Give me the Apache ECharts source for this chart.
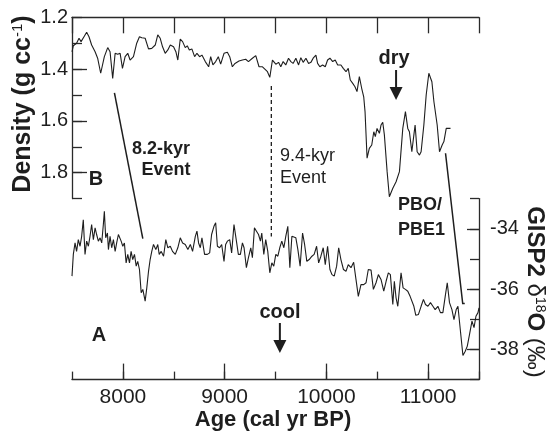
<!DOCTYPE html>
<html><head><meta charset="utf-8">
<script src="https://cdn.jsdelivr.net/npm/echarts@6/dist/echarts.min.js"></script>
<style>html,body{margin:0;padding:0;background:#fff}#c{width:547px;height:434px}</style>
</head><body><div id="c"></div>
<script>
// ---- Data ----
const densityAge = [7500,7513,7545,7569,7589,7618,7644,7667,7693,7727,
7752,7782,7818,7851,7874,7900,7924,7949,7973,7996,
8022,8048,8071,8104,8136,8163,8186,8219,8252,8284,
8318,8343,8367,8390,8416,8442,8466,8498,8521,8540,
8564,8587,8613,8633,8653,8678,8705,8728,8754,8777,
8810,8843,8863,8885,8912,8938,8961,8994,9027,9050,
9076,9102,9141,9175,9207,9234,9273,9306,9338,9372,
9398,9421,9444,9470,9503,9530,9552,9575,9601,9628,
9651,9673,9700,9727,9749,9772,9799,9825,9848,9870,
9897,9914,9936,9963,9989,10012,10035,10062,10087,10111,
10143,10166,10193,10215,10235,10259,10281,10301,10324,10347,
10367,10380,10400,10422,10446,10466,10481,10498,10521,10537,
10554,10570,10597,10619,10653,10685,10718,10751,10777,10800,
10816,10840,10860,10872,10892,10915,10931,10958,10981,11007,
11037,11057,11089,11112,11138,11155,11178,11195,11220];
const densityVal = [1.333,1.310,1.300,1.281,1.294,1.275,1.258,1.275,1.307,1.333,
1.358,1.416,1.352,1.317,1.333,1.436,1.339,1.343,1.339,1.397,
1.352,1.339,1.365,1.352,1.300,1.275,1.279,1.281,1.322,1.320,
1.307,1.268,1.281,1.314,1.339,1.326,1.307,1.314,1.333,1.365,
1.284,1.294,1.317,1.310,1.326,1.322,1.352,1.339,1.352,1.346,
1.371,1.391,1.352,1.384,1.371,1.352,1.381,1.339,1.335,1.352,
1.391,1.378,1.369,1.365,1.362,1.371,1.358,1.348,1.391,1.391,
1.401,1.410,1.432,1.365,1.381,1.374,1.391,1.371,1.384,1.358,
1.371,1.378,1.358,1.384,1.356,1.374,1.358,1.378,1.374,1.358,
1.346,1.378,1.391,1.384,1.391,1.365,1.358,1.371,1.365,1.384,
1.384,1.397,1.410,1.397,1.442,1.455,1.468,1.487,1.429,1.474,
1.507,1.564,1.744,1.706,1.693,1.642,1.661,1.629,1.648,1.616,
1.605,1.654,1.796,1.893,1.860,1.835,1.796,1.629,1.564,1.629,
1.642,1.719,1.654,1.616,1.719,1.732,1.719,1.616,1.500,1.416,
1.449,1.526,1.616,1.719,1.693,1.680,1.629,1.635,1.629];

const d18oAge = [7500,7513,7530,7545,7562,7579,7595,7611,7628,7644,
7661,7677,7693,7710,7727,7742,7759,7776,7792,7808,
7818,7831,7848,7858,7874,7890,7907,7924,7939,7956,
7983,7999,8015,8032,8048,8065,8081,8097,8114,8131,
8146,8163,8180,8196,8219,8235,8252,8268,8284,8301,
8324,8343,8357,8377,8400,8422,8442,8466,8488,8515,
8540,8564,8587,8613,8639,8663,8685,8712,8728,8744,
8761,8777,8803,8830,8853,8872,8895,8912,8929,8951,
8971,8994,9010,9027,9050,9069,9092,9116,9135,9155,
9175,9191,9214,9234,9257,9273,9293,9313,9333,9352,
9365,9385,9404,9424,9444,9464,9483,9503,9523,9542,
9562,9582,9601,9621,9641,9661,9680,9700,9720,9742,
9766,9786,9808,9831,9858,9880,9904,9924,9946,9969,
9989,10012,10035,10055,10077,10101,10121,10143,10168,10193,
10215,10242,10268,10291,10314,10340,10367,10390,10412,10439,
10462,10488,10511,10537,10564,10587,10609,10629,10653,10668,
10685,10702,10718,10734,10754,10777,10800,10823,10840,10860,
10879,10905,10931,10954,10974,10998,11023,11047,11069,11096,
11121,11145,11168,11188,11210,11234,11254,11276,11293,11316,
11342,11365,11385,11407,11431,11451,11470,11490,11500];
const d18oVal = [-35.57,-34.85,-34.47,-34.75,-34.36,-34.58,-34.25,-33.70,-34.85,-34.41,
-34.58,-34.25,-33.86,-34.36,-33.97,-34.19,-34.41,-34.30,-34.47,-33.86,
-33.42,-34.30,-34.14,-34.69,-34.25,-34.63,-34.36,-34.75,-34.47,-34.19,
-34.41,-34.58,-34.47,-35.13,-34.85,-35.13,-34.75,-35.02,-34.85,-35.24,
-35.08,-35.35,-36.12,-36.01,-36.40,-35.96,-35.41,-35.02,-34.75,-34.52,
-34.69,-34.52,-34.85,-34.75,-34.91,-34.36,-34.63,-34.58,-34.75,-34.85,
-34.63,-34.30,-34.47,-34.52,-34.69,-34.52,-34.75,-34.25,-34.08,-34.47,
-34.63,-34.30,-34.85,-34.85,-34.80,-34.19,-33.92,-33.80,-34.58,-34.63,
-34.52,-35.08,-34.52,-34.41,-34.36,-34.80,-33.86,-34.41,-34.85,-34.85,
-34.47,-34.63,-35.29,-34.96,-34.63,-34.96,-33.97,-34.08,-34.19,-34.41,
-34.14,-34.85,-34.36,-34.75,-35.46,-35.13,-35.24,-34.85,-34.91,-34.63,
-34.41,-34.63,-34.25,-33.92,-35.29,-34.25,-34.19,-34.30,-34.69,-35.24,
-34.14,-34.52,-35.08,-35.02,-34.91,-34.85,-34.58,-35.13,-34.91,-34.63,
-35.19,-34.58,-35.35,-35.52,-35.57,-35.24,-34.63,-35.02,-35.35,-35.41,
-35.19,-35.29,-35.11,-35.68,-36.24,-35.85,-35.85,-35.79,-35.35,-35.37,
-36.01,-35.79,-35.52,-35.68,-36.07,-35.74,-35.46,-35.52,-36.51,-35.74,
-36.29,-36.57,-36.01,-35.46,-35.96,-36.01,-36.07,-36.24,-36.29,-36.57,
-36.87,-36.84,-36.57,-36.34,-36.51,-36.57,-36.45,-36.57,-36.68,-36.57,
-36.78,-36.78,-36.24,-35.79,-36.45,-36.68,-37.01,-36.68,-36.57,-37.34,
-38.20,-38.06,-37.89,-37.50,-37.06,-37.28,-36.90,-36.78,-36.62];

const ageMajorTicks = [8000, 9000, 10000, 11000];
const densityMajorTicks = [1.2, 1.4, 1.6, 1.8];
const d18oMajorTicks = [-34, -36, -38];

// annotation anchors (data coordinates)
const event82 = { fromAge: 7917, fromDensity: 1.492, toAge: 8196, toD18o: -34.33 };
const event94 = { age: 9459, fromDensity: 1.465, toD18o: -34.26 };
const eventPBO = { fromAge: 11171, fromDensity: 1.725, toAge: 11340, toD18o: -36.48, endAge: 11360 };
const dryArrowAge = 10685;
const coolArrowAge = 9543;

// ---- Chart ----
const FONT = '"Liberation Sans", Arial, Helvetica, sans-serif';
const INK = '#1e1e1e';
const axisLineStyle = { color: '#2a2a2a', width: 1.3 };

const chart = echarts.init(document.getElementById('c'), null, { renderer: 'canvas' });

const densityData = densityAge.map((a, i) => [a, densityVal[i]]);
const d18oData = d18oAge.map((a, i) => [a, d18oVal[i]]);

const option = {
  animation: false,
  backgroundColor: '#fff',
  textStyle: { fontFamily: FONT },
  grid: [
    { left: 72, top: 17.3, width: 407, height: 181.3 },
    { left: 72, top: 198.6, width: 407, height: 181 }
  ],
  xAxis: [
    { gridIndex: 0, type: 'value', position: 'top', min: 7500, max: 11500, interval: 500,
      axisLine: { show: true, lineStyle: axisLineStyle },
      axisTick: { show: true, inside: true, length: 16, lineStyle: axisLineStyle },
      axisLabel: { show: false }, splitLine: { show: false } },
    { gridIndex: 1, type: 'value', position: 'bottom', min: 7500, max: 11500, interval: 500,
      axisLine: { show: true, lineStyle: axisLineStyle },
      axisTick: { show: true, inside: true, length: 8, lineStyle: axisLineStyle },
      axisLabel: { show: false }, splitLine: { show: false } },
    { gridIndex: 1, type: 'value', position: 'bottom', min: 7500, max: 11500, interval: 500,
      axisLine: { show: false },
      axisTick: { show: true, inside: true, length: 16, lineStyle: axisLineStyle, customValues: ageMajorTicks },
      axisLabel: { show: true, customValues: ageMajorTicks, formatter: v => String(v), fontSize: 21, color: INK, margin: 7, fontFamily: FONT },
      splitLine: { show: false } }
  ],
  yAxis: [
    { gridIndex: 0, type: 'value', position: 'left', inverse: true, min: 1.2, max: 1.9, interval: 0.1,
      axisLine: { show: true, lineStyle: axisLineStyle },
      axisTick: { show: true, inside: true, length: 10, lineStyle: axisLineStyle },
      axisLabel: { show: true, customValues: densityMajorTicks, formatter: v => v.toFixed(1), fontSize: 20, color: INK, margin: 4, fontFamily: FONT },
      splitLine: { show: false } },
    { gridIndex: 0, type: 'value', position: 'left', inverse: true, min: 1.2, max: 1.9, interval: 0.1,
      axisLine: { show: false },
      axisTick: { show: true, inside: true, length: 15, lineStyle: axisLineStyle, customValues: [1.4, 1.6, 1.8] },
      axisLabel: { show: false }, splitLine: { show: false } },
    { gridIndex: 1, type: 'value', position: 'right', min: -39, max: -33, interval: 1,
      axisLine: { show: true, lineStyle: axisLineStyle },
      axisTick: { show: true, inside: true, length: 9, lineStyle: axisLineStyle },
      axisLabel: { show: true, customValues: d18oMajorTicks, formatter: v => String(v), fontSize: 20, color: INK, margin: 11, fontFamily: FONT },
      splitLine: { show: false } },
    { gridIndex: 1, type: 'value', position: 'right', min: -39, max: -33, interval: 1,
      axisLine: { show: false },
      axisTick: { show: true, inside: true, length: 12, lineStyle: axisLineStyle, customValues: d18oMajorTicks },
      axisLabel: { show: false }, splitLine: { show: false } }
  ],
  series: [
    { name: 'Density', type: 'line', xAxisIndex: 0, yAxisIndex: 0, data: densityData,
      showSymbol: false, symbol: 'none', lineStyle: { color: INK, width: 1.1 }, silent: true },
    { name: 'GISP2 d18O', type: 'line', xAxisIndex: 1, yAxisIndex: 2, data: d18oData,
      showSymbol: false, symbol: 'none', lineStyle: { color: INK, width: 1.1 }, silent: true }
  ]
};
chart.setOption(option);

const p0 = (a, v) => chart.convertToPixel({ seriesIndex: 0 }, [a, v]);
const p1 = (a, v) => chart.convertToPixel({ seriesIndex: 1 }, [a, v]);

function txt(text, x, y, size, bold, align) {
  return { type: 'text', x: x, y: y, silent: true,
    style: { text: text, font: (bold ? 'bold ' : '') + size + 'px ' + FONT, fill: INK, align: align || 'center', verticalAlign: 'middle' } };
}
function arrow(x, yTop, yBot) {
  return [
    { type: 'line', silent: true, shape: { x1: x, y1: yTop, x2: x, y2: yBot - 10 }, style: { stroke: INK, lineWidth: 2 } },
    { type: 'polygon', silent: true, shape: { points: [[x - 6.5, yBot - 13], [x + 6.5, yBot - 13], [x, yBot]] }, style: { fill: INK } }
  ];
}

const a1 = p0(event82.fromAge, event82.fromDensity), a2 = p1(event82.toAge, event82.toD18o);
const b1 = p0(event94.age, event94.fromDensity), b2 = p1(event94.age, event94.toD18o);
const c1 = p0(eventPBO.fromAge, eventPBO.fromDensity), c2 = p1(eventPBO.toAge, eventPBO.toD18o), c3 = p1(eventPBO.endAge, eventPBO.toD18o);
const dryX = p0(dryArrowAge, 1.3)[0];
const coolX = p1(coolArrowAge, -36)[0];

const graphics = [
  { type: 'line', silent: true, shape: { x1: a1[0], y1: a1[1], x2: a2[0], y2: a2[1] }, style: { stroke: INK, lineWidth: 1.5 } },
  { type: 'line', silent: true, shape: { x1: b1[0], y1: b1[1], x2: b2[0], y2: b2[1] }, style: { stroke: INK, lineWidth: 1.3, lineDash: [4, 3] } },
  { type: 'polyline', silent: true, shape: { points: [c1, c2, c3] }, style: { stroke: INK, lineWidth: 1.5, fill: null } },
  txt('8.2-kyr', 161, 149, 18, true),
  txt('Event', 166, 170, 18, true),
  txt('9.4-kyr', 280, 156, 18, false, 'left'),
  txt('Event', 280, 178, 18, false, 'left'),
  txt('B', 96, 179, 20, true),
  txt('A', 99, 335, 20, true),
  txt('dry', 394, 58, 20, true),
  txt('cool', 280, 312, 20, true),
  txt('PBO/', 398, 205, 18, true, 'left'),
  txt('PBE1', 398, 230, 18, true, 'left'),
  { type: 'text', x: 23, y: 104, rotation: Math.PI / 2, silent: true,
    style: { text: '{b|Density (g cc}{s|-1}{b|)}', align: 'center', verticalAlign: 'middle', fill: INK,
      rich: { b: { font: 'bold 25px ' + FONT, fill: INK }, s: { font: '15px ' + FONT, fill: INK, verticalAlign: 'top' } } } },
  { type: 'text', x: 535, y: 292, rotation: -Math.PI / 2, silent: true,
    style: { text: '{b|GISP2 }{r|δ}{s|18}{b|O}{r| (‰)}', align: 'center', verticalAlign: 'middle', fill: INK,
      rich: { b: { font: 'bold 24px ' + FONT, fill: INK }, r: { font: '24px ' + FONT, fill: INK }, s: { font: '14px ' + FONT, fill: INK, verticalAlign: 'top' } } } },
  txt('Age (cal yr BP)', 273, 420, 22, true)
].concat(arrow(dryX, 70, 100)).concat(arrow(coolX, 323, 353));

chart.setOption({ graphic: graphics });
</script>
</body></html>
